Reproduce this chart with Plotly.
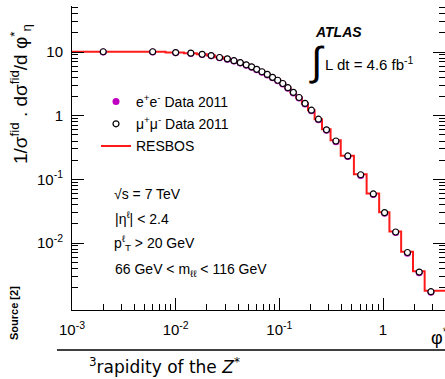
import plotly.graph_objects as go

# ---- data ----
bin_edges = [0.0, 0.004, 0.008, 0.012, 0.016, 0.020, 0.024, 0.029, 0.034, 0.039,
             0.045, 0.051, 0.057, 0.064, 0.072, 0.081, 0.091, 0.102, 0.114, 0.128,
             0.145, 0.165, 0.189, 0.219, 0.258, 0.312, 0.391, 0.524, 0.695, 0.918,
             1.153, 1.496, 1.947, 2.522, 4.0]
phi_centers = [0.002, 0.006, 0.010, 0.014, 0.018, 0.022, 0.0265, 0.0315, 0.0365, 0.042,
               0.048, 0.054, 0.0605, 0.068, 0.0765, 0.086, 0.0965, 0.108, 0.121, 0.1365,
               0.155, 0.177, 0.204, 0.2385, 0.285, 0.3515, 0.4575, 0.6095, 0.8065, 1.0355,
               1.3245, 1.7215, 2.2345, 2.8995]
mumu_data = [10.1, 10.1, 9.8, 9.6, 9.2, 8.8, 8.2, 7.8, 7.3, 6.8,
             6.3, 5.85, 5.35, 4.9, 4.45, 4.0, 3.6, 3.2, 2.75, 2.32,
             1.93, 1.56, 1.22, 0.88, 0.6, 0.40, 0.233, 0.118, 0.059, 0.030,
             0.0149, 0.0071, 0.0035, 0.00172]
ee_data = [10.0, 10.0, 9.7, 9.5, 9.1, 8.7, 8.1, 7.7, 7.2, 6.7,
           6.2, 5.75, 5.25, 4.8, 4.37, 3.93, 3.53, 3.14, 2.7, 2.28,
           1.9, 1.53, 1.2, 0.86, 0.59, 0.39, 0.228, 0.115, 0.058, 0.0293,
           0.0146, 0.0069, 0.0034, 0.00168]
resbos = [10.1, 10.1, 9.85, 9.6, 9.25, 8.85, 8.25, 7.8, 7.3, 6.8,
          6.3, 5.85, 5.35, 4.9, 4.45, 4.0, 3.6, 3.2, 2.75, 2.32,
          1.93, 1.56, 1.22, 0.88, 0.61, 0.41, 0.235, 0.12, 0.060, 0.0305,
          0.0152, 0.0073, 0.0036, 0.00178]

x_tick_vals = [0.001, 0.01, 0.1, 1]
x_tick_text = ["10<sup>-3</sup>", "10<sup>-2</sup>", "10<sup>-1</sup>", "1"]
y_tick_vals = [10, 1, 0.1, 0.01]
y_tick_text = ["10", "1", "10<sup>-1</sup>", "10<sup>-2</sup>"]

# ---- layout geometry ----
W, H = 445, 379
L, R, T, B = 72, 0, 6, 69
XRANGE = [-3.0, 0.598]
YRANGE = [-3.052, 1.7225]
FONT = "Liberation Sans, Arial, sans-serif"


def px(x):
    return (x - L) / (W - L - R)


def py(y):
    return (H - B - y) / (H - T - B)


# step line from bin edges
lo = 10 ** XRANGE[0]
step_x = [e if e > 0 else lo for e in bin_edges]
step_y = resbos + [resbos[-1]]

fig = go.Figure()
fig.add_trace(go.Scatter(
    x=step_x, y=step_y, mode="lines", line=dict(color="#ff1a1a", width=2, shape="hv"),
    name="RESBOS", legendgroup="c", legendrank=3))
fig.add_trace(go.Scatter(
    x=phi_centers, y=ee_data, mode="markers",
    marker=dict(color="#c000c0", size=7, line=dict(width=0)),
    name="e<sup>+</sup>e<sup>-</sup> Data 2011", legendgroup="a", legendrank=1))
fig.add_trace(go.Scatter(
    x=phi_centers, y=mumu_data, mode="markers",
    marker=dict(color="white", size=6, line=dict(color="black", width=1.2)),
    name="μ<sup>+</sup>μ<sup>-</sup> Data 2011", legendgroup="b", legendrank=2))

minor_x = [d * 10 ** k for k in range(-3, 1) for d in range(2, 10)]
minor_y = [d * 10 ** k for k in range(-4, 2) for d in range(2, 10)]

fig.update_xaxes(
    type="log", range=XRANGE, showgrid=False, zeroline=False,
    showline=True, linecolor="black", linewidth=1,
    tickmode="array", tickvals=x_tick_vals, ticktext=x_tick_text,
    ticks="inside", ticklen=12, tickcolor="black", tickwidth=1,
    ticklabelstandoff=6,
    tickfont=dict(family=FONT, size=15, color="black"),
    minor=dict(tickmode="array", tickvals=minor_x, ticks="inside", ticklen=6,
               tickcolor="black", showgrid=False),
)
fig.update_yaxes(
    type="log", range=YRANGE, showgrid=False, zeroline=False,
    showline=True, linecolor="black", linewidth=1, mirror="ticks",
    tickmode="array", tickvals=y_tick_vals, ticktext=y_tick_text,
    ticks="inside", ticklen=12, tickcolor="black", tickwidth=1,
    ticklabelstandoff=5,
    tickfont=dict(family=FONT, size=15, color="black"),
    minor=dict(tickmode="array", tickvals=minor_y, ticks="inside", ticklen=6,
               tickcolor="black", showgrid=False),
)

ann = []


def text(x, y, s, size=14, xanchor="left", **kw):
    ann.append(dict(x=px(x), y=py(y), xref="paper", yref="paper", text=s,
                    showarrow=False, xanchor=xanchor, yanchor="middle",
                    font=dict(family=kw.pop("family", FONT), size=size, color="black"), **kw))


text(338, 32, "<b><i>ATLAS</i></b>", size=14, xanchor="center")
text(317, 61, "∫", size=40, xanchor="center")
text(323, 64, "L dt = 4.6 fb<sup>-1</sup>", size=15)
text(112, 194, "√s = 7 TeV", size=14)
text(113, 218, "|η<sup>ℓ</sup>| &lt; 2.4", size=14)
text(112, 243, "p<sup>ℓ</sup><sub>T</sub> &gt; 20 GeV", size=14)
text(113, 270, "66 GeV &lt; m<sub>ℓℓ</sub> &lt; 116 GeV", size=14)
text(20, 94, "1/σ<sup>fid</sup> . dσ<sup>fid</sup>/d φ<sup>*</sup><sub>η</sub>",
     size=19, xanchor="center", textangle=-90)
text(429, 337, "φ<sup>*</sup><sub>η</sub>", size=18)
text(14, 313, "<b>Source [2]</b>", size=11, xanchor="center", textangle=-90)
text(87, 366, "<sup>3</sup>rapidity of the <i>Z</i><sup>*</sup>", size=17,
     family="DejaVu Sans, sans-serif")

fig.update_layout(
    width=W, height=H,
    margin=dict(l=L, r=R, t=T, b=B),
    paper_bgcolor="white", plot_bgcolor="white",
    showlegend=True,
    legend=dict(x=px(96), y=py(86), xanchor="left", yanchor="top",
                bgcolor="rgba(0,0,0,0)", borderwidth=0, tracegroupgap=1,
                font=dict(family=FONT, size=14, color="black")),
    annotations=ann,
    shapes=[dict(type="line", xref="paper", yref="paper",
                 x0=px(57), x1=px(445), y0=py(350), y1=py(350),
                 line=dict(color="black", width=1.3))],
)

fig.write_html("out.html", config={"displayModeBar": False},
               post_script="document.body.style.margin='0px';")
